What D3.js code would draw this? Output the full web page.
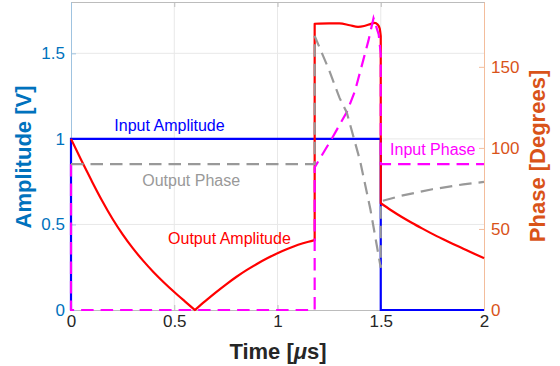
<!DOCTYPE html>
<html>
<head>
<meta charset="utf-8">
<script src="https://cdn.jsdelivr.net/npm/d3@7"></script>
<style>
  body { margin: 0; background: #fff; }
  svg { display: block; font-family: "Liberation Sans", Arial, sans-serif; }
</style>
</head>
<body>
<div id="chart"></div>
<script>
// time in microseconds, amplitude in volts, phase in degrees
var inputAmp = [[0, 0], [0, 1], [1.5, 1], [1.5, 0], [2, 0]];

// repeated time = corner or jump (line is broken there, not smoothed)
var outputAmp = [
	[0, 1.00], [0.05, 0.875], [0.1, 0.755], [0.15, 0.64], [0.2, 0.535], [0.25, 0.442],
	[0.3, 0.36], [0.35, 0.287], [0.4, 0.221], [0.45, 0.161], [0.5, 0.105], [0.55, 0.052],
	[0.6, 0], [0.6, 0], [0.65, 0.052], [0.7, 0.102], [0.75, 0.149], [0.8, 0.193], [0.85, 0.233],
	[0.9, 0.269], [0.95, 0.302], [1.0, 0.332], [1.05, 0.358], [1.1, 0.381], [1.15, 0.399],
	[1.18, 0.408], [1.18, 1.673], [1.25, 1.675], [1.3, 1.675], [1.35, 1.664], [1.39, 1.655],
	[1.42, 1.66], [1.45, 1.671], [1.47, 1.678], [1.485, 1.668], [1.495, 1.645], [1.5, 1.60],
	[1.5, 0.624], [1.55, 0.583], [1.6, 0.545], [1.65, 0.51], [1.7, 0.477], [1.75, 0.445],
	[1.8, 0.415], [1.85, 0.386], [1.9, 0.358], [1.95, 0.33], [2, 0.303]
];

var inputPhase = [
	[0, 90], [0, 0], [1.18, 0], [1.18, 88], [1.26, 105], [1.335, 122], [1.375, 135],
	[1.415, 154], [1.44, 166], [1.465, 180], [1.49, 170], [1.5, 158], [1.5, 90], [2, 90]
];

var outputPhase = [
	[0, 90], [1.18, 90], [1.18, 169], [1.25, 148], [1.3, 131], [1.335, 122], [1.4, 92],
	[1.45, 62], [1.5, 26], [1.5, 67], [1.6, 70.5], [1.75, 74.5], [1.9, 77.5], [2, 79]
];

var xTicks = [0, 0.5, 1, 1.5, 2];
var ampTicks = [0, 0.5, 1, 1.5];
var phaseTicks = [0, 50, 100, 150];

var W = 560, H = 366;
var padL = 71, padR = 484, padT = 2, padB = 310;

var blueAx = "#0072BD", orangeAx = "#D95319", dark = "#262626";

var x = d3.scaleLinear().domain([0, 2]).range([padL, padR]);
var yA = d3.scaleLinear().domain([0, 1.8]).range([padB, padT]);
var yP = d3.scaleLinear().domain([0, 190]).range([padB, padT]);

var svg = d3.select("#chart").append("svg")
	.attr("width", W)
	.attr("height", H);

// grid
var grid = svg.append("g");
grid.selectAll(".gx").data(xTicks.slice(1, -1))
	.enter().append("line")
	.attr("x1", function(d) { return x(d); }).attr("x2", function(d) { return x(d); })
	.attr("y1", padT).attr("y2", padB)
	.attr("stroke", "#e8e8e8");
grid.selectAll(".gy").data(ampTicks.slice(1))
	.enter().append("line")
	.attr("x1", padL).attr("x2", padR)
	.attr("y1", function(d) { return yA(d); }).attr("y2", function(d) { return yA(d); })
	.attr("stroke", "#e8e8e8");

// frame + axes
function styleAxis(g, lineCol, textCol) {
	g.select(".domain").attr("stroke", lineCol).attr("stroke-width", 1);
	g.selectAll(".tick line").attr("stroke", lineCol);
	g.selectAll(".tick text")
		.attr("fill", textCol)
		.style("font-size", "17px")
		.style("font-family", "Liberation Sans, Arial, sans-serif");
}

var xAxis = svg.append("g")
	.attr("transform", "translate(0," + padB + ")")
	.call(d3.axisBottom(x).tickValues(xTicks).tickFormat(d3.format("~g")).tickSize(-5).tickPadding(5).tickSizeOuter(0));
styleAxis(xAxis, "#bcbcbc", dark);

var xTop = svg.append("g")
	.attr("transform", "translate(0," + padT + ")")
	.call(d3.axisTop(x).tickValues(xTicks).tickFormat("").tickSize(-5).tickSizeOuter(0));
styleAxis(xTop, "#bcbcbc", dark);

var yLeft = svg.append("g")
	.attr("transform", "translate(" + padL + ",0)")
	.call(d3.axisLeft(yA).tickValues(ampTicks).tickFormat(d3.format("~g")).tickSize(-5).tickPadding(6).tickSizeOuter(0));
styleAxis(yLeft, "#9fc3e0", blueAx);

var yRight = svg.append("g")
	.attr("transform", "translate(" + padR + ",0)")
	.call(d3.axisRight(yP).tickValues(phaseTicks).tickSize(-5).tickPadding(7).tickSizeOuter(0));
styleAxis(yRight, "#f3bd9c", orangeAx);

// series
var lineA = d3.line().x(function(d) { return x(d[0]); }).y(function(d) { return yA(d[1]); });
var lineP = d3.line().x(function(d) { return x(d[0]); }).y(function(d) { return yP(d[1]); });
var smoothA = d3.line().curve(d3.curveMonotoneX)
	.x(function(d) { return x(d[0]); }).y(function(d) { return yA(d[1]); });

// smooth pieces joined by straight vertical jumps
function jumpPath(data, gen) {
	var pieces = [[data[0]]];
	for (var i = 1; i < data.length; i++) {
		if (data[i][0] === data[i - 1][0]) pieces.push([]);
		pieces[pieces.length - 1].push(data[i]);
	}
	return pieces.map(function(p, i) {
		var s = gen(p);
		return i === 0 ? s : "L" + s.slice(1);
	}).join("");
}

var plot = svg.append("g");
plot.append("path").datum(inputAmp)
	.attr("d", lineA).attr("fill", "none").attr("stroke", "#0000FF").attr("stroke-width", 2.2);
plot.append("path")
	.attr("d", jumpPath(outputAmp, smoothA)).attr("fill", "none").attr("stroke", "#FF0000").attr("stroke-width", 2.2)
	.attr("stroke-linejoin", "round");
plot.append("path").datum(inputPhase)
	.attr("d", lineP).attr("fill", "none").attr("stroke", "#FF00FF").attr("stroke-width", 2.2)
	.attr("stroke-dasharray", "12.5,7");
plot.append("path").datum(outputPhase)
	.attr("d", lineP).attr("fill", "none").attr("stroke", "#999999").attr("stroke-width", 2.2)
	.attr("stroke-dasharray", "12.5,7");

// annotations
var notes = [
	{ text: "Input Amplitude", t: 0.21, v: 1.08, col: "#0000FF", scale: yA },
	{ text: "Output Phase", t: 0.345, v: 80, col: "#999999", scale: yP },
	{ text: "Output Amplitude", t: 0.47, v: 0.418, col: "#FF0000", scale: yA },
	{ text: "Input Phase", t: 1.545, v: 99, col: "#FF00FF", scale: yP }
];
svg.append("g").selectAll("text").data(notes)
	.enter().append("text")
	.attr("x", function(d) { return x(d.t); })
	.attr("y", function(d) { return d.scale(d.v); })
	.attr("dy", "0.35em")
	.attr("fill", function(d) { return d.col; })
	.style("font-size", "16px")
	.text(function(d) { return d.text; });

// axis titles
svg.append("text")
	.attr("transform", "translate(31,157) rotate(-90)")
	.attr("text-anchor", "middle")
	.attr("fill", blueAx)
	.style("font-size", "22px").style("font-weight", "bold")
	.text("Amplitude [V]");

svg.append("text")
	.attr("transform", "translate(545,156) rotate(-90)")
	.attr("text-anchor", "middle")
	.attr("fill", orangeAx)
	.style("font-size", "22px").style("font-weight", "bold")
	.text("Phase [Degrees]");

var xl = svg.append("text")
	.attr("x", 278).attr("y", 359)
	.attr("text-anchor", "middle")
	.attr("fill", dark)
	.style("font-size", "22px").style("font-weight", "bold");
xl.append("tspan").text("Time [");
xl.append("tspan").style("font-style", "italic").text("\u03bc");
xl.append("tspan").text("s]");
</script>
</body>
</html>
